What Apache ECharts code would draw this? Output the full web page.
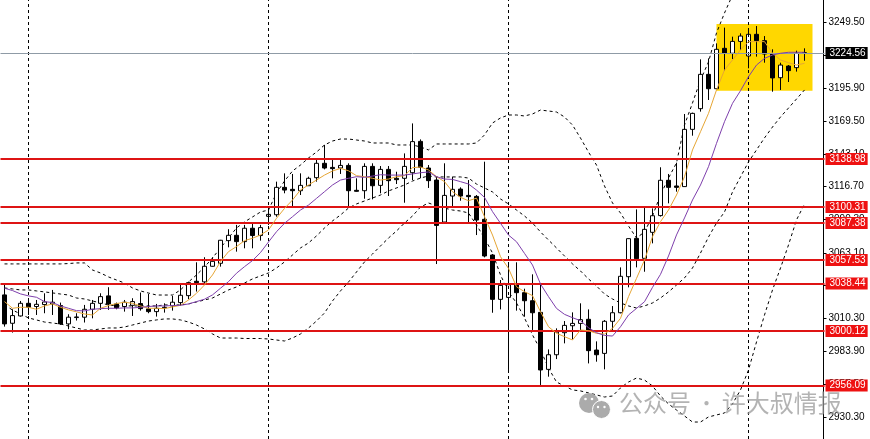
<!DOCTYPE html>
<html>
<head>
<meta charset="utf-8">
<style>html,body{margin:0;padding:0;background:#fff}#c{width:870px;height:439px}</style>
<script src="https://cdn.jsdelivr.net/npm/echarts@6/dist/echarts.min.js"></script>
</head>
<body>
<div id="c"></div>
<script>
const opens = [3029.3,3006.4,3012.3,3022.5,3019.9,3021.5,3022.0,3020.7,3005.9,3011.0,
3011.3,3017.7,3022.5,3028.5,3022.0,3019.9,3020.9,3022.3,3018.0,3015.8,
3018.8,3020.4,3023.1,3028.7,3040.3,3039.8,3052.4,3054.8,3073.1,3077.4,
3072.3,3083.1,3077.2,3092.7,3094.0,3116.1,3114.5,3113.4,3117.4,3123.9,
3135.5,3132.2,3131.7,3133.8,3113.7,3113.4,3133.0,3117.7,3130.6,3123.4,
3123.4,3127.9,3153.2,3131.7,3122.0,3088.1,3109.1,3114.7,3109.6,3108.8,
3090.3,3061.5,3025.7,3027.3,3037.5,3031.1,3024.6,3015.2,2969.2,2981.0,
2998.8,3004.4,3006.3,3009.6,2984.8,2982.1,3008.0,3014.9,3044.0,3074.9,
3058.8,3079.8,3093.3,3121.8,3117.2,3116.7,3162.9,3179.6,3207.3,3195.7,
3228.3,3224.3,3233.9,3222.1,3239.6,3234.5,3223.7,3204.6,3214.0,3212.7,
3224.3];
const closes = [3005.9,3012.6,3022.5,3019.3,3021.7,3023.6,3023.4,3005.9,3011.3,3011.5,
3017.7,3022.5,3027.9,3022.0,3018.8,3023.4,3023.9,3018.2,3015.8,3018.5,
3019.3,3023.4,3029.0,3039.2,3039.2,3052.4,3056.4,3073.4,3077.4,3072.3,
3083.1,3077.2,3083.6,3094.3,3116.1,3113.9,3113.4,3117.7,3123.4,3135.5,
3131.7,3131.2,3133.8,3113.4,3112.9,3133.0,3117.4,3130.6,3121.5,3122.3,
3133.0,3153.0,3132.2,3121.5,3085.4,3109.6,3114.5,3109.1,3108.6,3089.7,
3060.7,3025.7,3037.0,3037.5,3031.1,3024.6,3014.9,2968.7,2981.0,2999.3,
3004.7,3006.3,3009.3,2984.3,2981.0,3008.0,3014.9,3044.3,3074.7,3058.5,
3082.2,3093.2,3121.8,3116.1,3116.1,3162.9,3175.8,3207.3,3195.7,3227.5,
3224.3,3233.9,3238.2,3239.6,3234.5,3223.7,3204.4,3214.8,3210.3,3224.3,
3224.8];
const lows = [3003.7,2998.9,3011.8,3013.1,3013.1,3014.5,3013.1,3005.1,3001.6,3008.6,
3007.0,3010.4,3017.2,3017.2,3017.7,3015.8,3012.3,3016.6,3014.5,3011.8,
3015.0,3016.6,3020.4,3025.8,3032.0,3038.7,3052.1,3052.1,3067.7,3064.2,
3066.9,3066.9,3073.1,3085.7,3092.4,3111.3,3100.5,3109.9,3117.2,3120.7,
3130.6,3123.4,3126.9,3100.5,3112.6,3106.9,3106.4,3111.3,3109.1,3118.8,
3103.7,3122.0,3123.4,3115.6,3054.2,3088.1,3100.5,3105.3,3088.1,3077.6,
3059.6,3014.9,3017.6,2968.7,3016.6,3011.7,3001.0,2956.6,2963.3,2977.5,
2990.2,2993.4,3000.4,2974.0,2975.4,2969.2,2999.6,3014.4,3035.4,3051.5,
3048.0,3070.9,3092.5,3103.2,3112.6,3116.7,3157.8,3177.2,3186.6,3195.2,
3210.3,3219.7,3226.9,3212.2,3221.6,3216.7,3193.3,3194.7,3201.1,3209.5,
3218.3];
const highs = [3037.3,3017.7,3024.4,3025.8,3025.2,3030.6,3033.3,3023.1,3013.7,3014.5,
3021.2,3025.2,3030.6,3035.5,3023.1,3025.2,3026.6,3031.2,3030.1,3022.0,
3022.5,3028.5,3037.3,3040.0,3055.6,3059.7,3059.7,3073.7,3082.3,3085.8,
3085.8,3086.6,3085.8,3100.5,3120.7,3127.4,3126.9,3127.4,3124.7,3138.2,
3150.3,3138.2,3138.2,3135.5,3123.4,3135.5,3135.5,3133.3,3133.3,3128.7,
3143.5,3167.7,3154.8,3134.1,3124.7,3135.5,3124.7,3116.1,3122.0,3109.9,
3136.8,3062.3,3041.3,3054.8,3055.6,3034.3,3045.9,3038.1,2985.3,3002.3,
3008.2,3015.2,3022.5,3017.6,2991.8,3009.0,3020.3,3051.5,3074.9,3098.3,
3099.4,3099.1,3132.3,3126.9,3136.0,3175.3,3176.4,3219.4,3220.2,3232.3,
3245.0,3237.7,3240.4,3243.6,3246.3,3238.2,3227.5,3216.7,3214.8,3226.4,
3228.3];
const maFast = [3023.9,3018.5,3019.3,3019.3,3017.7,3020.4,3022.0,3019.3,3017.2,3015.6,
3013.9,3013.1,3018.5,3020.7,3022.3,3023.4,3022.5,3020.4,3018.5,3018.5,
3018.2,3019.6,3020.9,3025.2,3030.6,3037.3,3045.4,3056.2,3064.2,3068.3,
3073.1,3075.0,3077.7,3081.7,3091.1,3099.1,3105.9,3114.0,3118.0,3122.0,
3126.0,3129.3,3131.4,3129.5,3125.5,3124.7,3123.4,3122.0,3122.8,3124.7,
3125.5,3132.0,3132.5,3130.1,3124.7,3120.7,3112.6,3108.0,3105.3,3107.4,
3092.4,3077.6,3060.1,3050.7,3035.9,3031.9,3028.7,3015.7,3003.6,2998.3,
2995.6,2992.9,3001.0,3000.4,2998.3,2997.7,3002.3,3010.4,3027.9,3042.6,
3057.4,3076.3,3088.4,3097.8,3109.9,3124.7,3146.3,3161.0,3175.8,3194.7,
3210.8,3218.9,3227.0,3233.7,3233.7,3233.7,3224.3,3218.9,3216.7,3214.8,
3216.2];
const maSlow = [3034.7,3032.8,3030.1,3028.5,3027.4,3023.9,3023.1,3020.4,3018.5,3016.6,
3016.4,3017.7,3018.2,3018.5,3018.5,3018.8,3018.8,3019.3,3019.9,3020.4,
3020.4,3020.7,3020.9,3022.0,3023.9,3025.8,3029.3,3034.7,3040.0,3046.8,
3052.1,3057.0,3063.5,3072.0,3080.3,3087.1,3092.4,3097.8,3101.8,3107.2,
3112.6,3118.0,3122.0,3123.4,3124.7,3124.2,3125.2,3126.3,3126.0,3126.0,
3126.0,3126.9,3127.9,3128.5,3124.7,3122.8,3122.5,3120.7,3118.8,3113.9,
3108.0,3096.5,3087.1,3077.6,3072.2,3062.8,3053.4,3038.1,3027.9,3018.4,
3013.6,3010.9,3008.5,3002.8,2998.8,2996.6,2996.1,3003.6,3013.1,3018.4,
3023.8,3035.4,3045.9,3060.7,3077.7,3091.4,3105.9,3118.0,3132.8,3151.6,
3169.1,3183.9,3194.1,3205.4,3214.8,3220.2,3222.9,3224.3,3225.1,3225.1,
3225.1];
const bbUpper = [3054.3,3054.3,3054.3,3054.3,3054.3,3054.3,3054.3,3054.3,3054.6,3055.1,
3055.1,3049.4,3047.0,3043.8,3041.3,3038.9,3034.9,3032.5,3030.8,3029.2,
3029.2,3029.2,3033.3,3039.7,3045.4,3051.8,3059.1,3067.2,3075.2,3083.3,
3088.2,3092.2,3096.2,3097.8,3111.5,3121.2,3129.3,3134.1,3139.8,3144.6,
3150.3,3153.5,3155.1,3155.1,3154.3,3153.5,3151.9,3151.9,3151.9,3150.3,
3150.3,3150.3,3148.7,3146.3,3151.1,3151.1,3151.1,3151.1,3151.1,3151.9,
3158.4,3168.0,3172.1,3174.5,3174.5,3173.7,3175.3,3178.5,3177.7,3176.9,
3172.9,3166.4,3155.9,3144.6,3134.1,3117.2,3103.5,3095.4,3084.9,3075.2,
3080.1,3093.0,3109.9,3123.6,3135.8,3166.4,3184.2,3202.7,3217.3,3240.7,
3256.8,3271.3];
const bbMiddle = [3034.9,3034.1,3033.3,3033.3,3032.5,3031.7,3030.9,3030.0,3029.2,3026.8,
3026.0,3024.4,3022.8,3021.2,3020.4,3020.4,3020.4,3020.4,3020.4,3020.4,
3021.2,3021.2,3021.2,3022.0,3023.6,3025.2,3026.8,3030.0,3033.3,3035.7,
3038.9,3042.2,3044.6,3047.0,3051.0,3055.9,3061.5,3067.2,3071.2,3076.9,
3083.3,3089.0,3093.8,3099.4,3102.7,3105.1,3107.5,3109.9,3113.2,3115.6,
3118.0,3121.2,3123.6,3125.3,3124.5,3124.5,3124.5,3124.5,3123.6,3118.8,
3115.6,3112.4,3106.7,3102.7,3097.8,3093.0,3087.3,3080.1,3073.6,3067.2,
3060.7,3054.3,3048.6,3042.2,3036.5,3030.0,3026.0,3022.8,3020.4,3018.7,
3020.4,3022.8,3026.8,3031.7,3037.3,3043.0,3051.0,3063.1,3076.0,3087.3,
3096.2,3112.4,3124.5,3136.6,3146.3,3156.0,3164.8,3172.9,3180.1,3187.4,
3194.7];
const bbLower = [3021.2,3017.1,3013.9,3010.7,3009.1,3007.4,3006.6,3005.8,3004.2,3002.6,
3001.0,3001.0,3001.8,3002.6,3002.6,3003.4,3005.0,3006.6,3008.2,3009.1,
3009.9,3009.9,3009.1,3007.4,3005.0,3001.8,2997.8,2994.5,2994.5,2994.5,
2994.1,2994.1,2994.1,2993.7,2992.9,2992.1,2994.5,2997.8,3002.6,3008.2,
3014.7,3024.4,3032.5,3039.7,3047.8,3055.9,3062.3,3068.8,3075.2,3080.9,
3087.3,3093.0,3100.2,3103.5,3101.1,3099.4,3097.8,3097.0,3095.4,3085.7,
3075.2,3063.1,3045.4,3031.7,3022.8,3010.7,2997.0,2984.9,2970.3,2959.0,
2955.8,2952.6,2951.8,2950.2,2948.6,2946.9,2947.7,2954.2,2959.0,2962.2,
2960.6,2955.8,2947.7,2941.3,2936.4,2931.6,2926.7,2926.7,2930.8,2932.4,
2934.0,2941.3,2952.6,2968.7,2991.3,3013.1,3033.3,3051.0,3069.6,3089.8,
3102.7];
const levels = [3138.98,3100.31,3087.38,3057.53,3038.44,3000.12,2956.09];
const currentPrice = 3224.56;
const tickValues = [3249.50,3222.90,3195.90,3169.50,3143.10,3116.70,3090.30,3063.10,3036.70,3010.30,2983.90,2957.50,2930.30];
const periodBars = ['3','33','63','93'];
const zoneBars = ['89','101'];
const zonePrices = [3247.9,3194.1];
const barSlots = 103;

const categories = Array.from({length: barSlots}, (_, i) => String(i));
const candles = opens.map((o, i) => [o, closes[i], lows[i], highs[i]]);
const FONT = '"Liberation Sans",sans-serif';
const FS = 10;
const lineSeries = (name, data, color, type, z, width) => ({
  name, type: 'line', data, showSymbol: false, symbol: 'none', silent: true, z,
  lineStyle: {color, width: width || 1, type}
});

const chart = echarts.init(document.getElementById('c'), null, {renderer: 'canvas'});
chart.setOption({
  animation: false,
  backgroundColor: '#ffffff',
  grid: {left: 0.5, top: 0, width: 824, height: 439, containLabel: false},
  xAxis: {
    type: 'category', data: categories, boundaryGap: true,
    axisLine: {show: false}, axisTick: {show: false}, axisLabel: {show: false}, splitLine: {show: false}
  },
  yAxis: {
    type: 'value', position: 'right', min: 2913.0, max: 3267.3, offset: -1, scale: true,
    splitLine: {show: false},
    axisLine: {show: true, lineStyle: {color: '#000', width: 1}},
    axisTick: {show: true, length: 3, lineStyle: {color: '#000'}, customValues: tickValues},
    axisLabel: {
      color: '#000', fontFamily: FONT, fontSize: FS, margin: 5,
      customValues: tickValues, formatter: v => v.toFixed(2)
    }
  },
  series: [
    {
      name: 'zone', type: 'line', data: [], z: 1, silent: true,
      markArea: {
        silent: true, itemStyle: {color: '#FFD700', opacity: 1},
        data: [[{xAxis: zoneBars[0], yAxis: zonePrices[0]}, {xAxis: zoneBars[1], yAxis: zonePrices[1]}]]
      }
    },
    {
      name: 'periods', type: 'line', data: [], z: 2, silent: true,
      markLine: {
        silent: true, symbol: 'none', animation: false, label: {show: false},
        lineStyle: {color: '#000', width: 1, type: [3, 3]},
        data: periodBars.map(b => ({xAxis: b}))
      }
    },
    lineSeries('bbUpper', bbUpper, '#000', [3, 3], 3),
    lineSeries('bbMiddle', bbMiddle, '#000', [3, 3], 3),
    lineSeries('bbLower', bbLower, '#000', [3, 3], 3),
    {
      name: 'price', type: 'candlestick', data: candles, barWidth: 5, z: 4, silent: true,
      itemStyle: {color: '#ffffff', color0: '#000000', borderColor: '#000000', borderColor0: '#000000', borderWidth: 1}
    },
    lineSeries('maFast', maFast, '#E6A635', 'solid', 5, 1),
    lineSeries('maSlow', maSlow, '#7E3FAC', 'solid', 5, 1),
    {
      name: 'current', type: 'line', data: [], z: 6, silent: true,
      markLine: {
        silent: true, symbol: 'none', animation: false,
        lineStyle: {color: '#8F9BA6', width: 1, type: 'solid'},
        label: {
          show: true, position: 'end', distance: 1, color: '#fff', backgroundColor: '#000',
          fontFamily: FONT, fontSize: FS, padding: [1, 2, 1, 4], formatter: p => p.value.toFixed(2)
        },
        data: [{yAxis: currentPrice}]
      }
    },
    {
      name: 'levels', type: 'line', data: [], z: 7, silent: true,
      markLine: {
        silent: true, symbol: 'none', animation: false,
        lineStyle: {color: '#DE1414', width: 2, type: 'solid'},
        label: {
          show: true, position: 'end', distance: 1, color: '#fff', backgroundColor: '#EE1111',
          fontFamily: FONT, fontSize: FS, padding: [1, 2, 1, 4], formatter: p => p.value.toFixed(2)
        },
        data: levels.map(v => ({yAxis: v}))
      }
    }
  ],
  graphic: [
    {type: 'circle', shape: {cx: 589, cy: 403, r: 10}, style: {fill: '#ABABAB'}, z: 20},
    {type: 'circle', shape: {cx: 601.5, cy: 409.5, r: 9}, style: {fill: '#ABABAB', stroke: '#fff', lineWidth: 1}, z: 21},
    {type: 'circle', shape: {cx: 585.5, cy: 399, r: 1.3}, style: {fill: '#fff'}, z: 22},
    {type: 'circle', shape: {cx: 592, cy: 399, r: 1.3}, style: {fill: '#fff'}, z: 22},
    {type: 'circle', shape: {cx: 598, cy: 407, r: 1.2}, style: {fill: '#fff'}, z: 22},
    {type: 'circle', shape: {cx: 604.5, cy: 407, r: 1.2}, style: {fill: '#fff'}, z: 22},
    {
      type: 'text', left: 619, top: 391, z: 20, silent: true,
      style: {
        text: '{a|公众号 }{b|·}{a| 许大叔情报}',
        rich: {
          a: {fill: 'rgba(150,150,150,0.72)', fontSize: 24, fontFamily: '"Noto Sans CJK SC"'},
          b: {fill: 'rgba(150,150,150,0.72)', fontSize: 20, fontFamily: '"Noto Sans CJK SC"'}
        }
      }
    }
  ]
});
</script>
</body>
</html>
